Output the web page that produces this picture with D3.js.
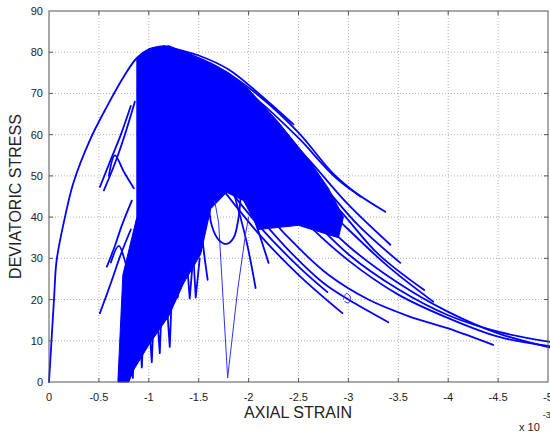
<!DOCTYPE html>
<html>
<head>
<meta charset="utf-8">
<script src="https://cdn.jsdelivr.net/npm/d3@7"></script>
<style>
  html, body { margin: 0; padding: 0; background: #fff; }
  svg { display: block; font-family: "Liberation Sans", Arial, sans-serif; }
  .grid line { stroke: #b0b0b0; stroke-width: 1; stroke-dasharray: 1 2; }
  .frame { fill: none; stroke: #555; stroke-width: 1; }
  .tick-mark { stroke: #555; stroke-width: 1; }
  .tick-label { font-size: 11px; fill: #222; }
  .axis-title { font-size: 16px; fill: #222; }
  .curve { fill: none; stroke: #0000ff; stroke-width: 1.8; stroke-linejoin: round; stroke-linecap: round; }
  .thin { fill: none; stroke: #3030ff; stroke-width: 1; }
  .core { fill: #0000ff; stroke: #0000ff; stroke-width: 1; }
</style>
</head>
<body>
<div id="chart"></div>
<script>
// axial strain (x 10^-3) / deviatoric stress
const xTicks = [0, -0.5, -1, -1.5, -2, -2.5, -3, -3.5, -4, -4.5, -5];
const yTicks = [0, 10, 20, 30, 40, 50, 60, 70, 80, 90];

// initial loading branch up to the peak
const loading = [[0, 0], [-0.02, 8], [-0.05, 20], [-0.077, 29.6], [-0.16, 40], [-0.244, 48.3], [-0.41, 58.7],
  [-0.58, 66.8], [-0.75, 74.1], [-0.88, 78.6], [-1.01, 80.8], [-1.15, 81.5]];

// dense overlapping region of the cycles, traced as an outline
const core = [[-0.88, 78.6], [-1.0, 80.8], [-1.2, 81.6], [-1.5, 78.5], [-1.8, 75], [-2.0, 71], [-2.3, 63], [-2.6, 54],
  [-2.8, 47], [-2.95, 40], [-2.9, 35], [-2.5, 38], [-2.1, 37], [-1.95, 44], [-1.78, 46], [-1.62, 42], [-1.52, 31],
  [-1.35, 24], [-1.2, 16], [-1.0, 9], [-0.85, 3], [-0.8, 0], [-0.69, 0], [-0.74, 26], [-0.88, 40], [-0.88, 55]];

// softening branches fanning out from the peak
const fan = [
  [[-1.15, 81.5], [-1.5, 79.2], [-1.8, 75.8], [-2.1, 70], [-2.45, 62.5]],
  [[-1.3, 80.5], [-1.7, 76.3], [-2.1, 69.5], [-2.5, 60.5], [-2.85, 50.5], [-3.12, 45]],
  [[-1.3, 79.5], [-1.7, 75.2], [-2.1, 68.2], [-2.5, 59.2], [-2.9, 49], [-3.37, 41.3]],
  [[-1.35, 78], [-1.8, 72], [-2.2, 64], [-2.6, 54], [-3.0, 43], [-3.42, 33.3]],
  [[-1.4, 76], [-1.9, 68], [-2.3, 59], [-2.7, 49], [-3.1, 38], [-3.52, 28.9]],
  [[-1.4, 74], [-1.9, 65], [-2.4, 54], [-2.9, 42], [-3.3, 31], [-3.76, 22.3]],
  [[-1.45, 72], [-2.0, 61], [-2.5, 49], [-3.0, 37], [-3.4, 28], [-3.85, 19.5]],
  [[-1.5, 70], [-2.0, 58], [-2.5, 45], [-3.0, 33], [-3.5, 24], [-4.0, 17], [-4.5, 11.8], [-5.05, 8.2]],
  [[-1.5, 68], [-2.0, 56], [-2.5, 43], [-3.0, 31], [-3.5, 22.5], [-4.0, 16.2], [-4.5, 12.2], [-5.05, 9.6]],
  [[-1.55, 66], [-2.0, 54], [-2.5, 40.5], [-3.0, 29.5], [-3.5, 21.2], [-4.0, 15.5], [-4.5, 11], [-5.05, 8.6]],
  [[-1.6, 58], [-2.0, 46], [-2.4, 35], [-2.8, 26], [-3.2, 20], [-3.6, 16], [-4.0, 13], [-4.45, 9]],
  [[-1.6, 55], [-2.0, 43], [-2.4, 32], [-2.75, 24], [-3.0, 20], [-3.4, 14.5]],
  [[-1.7, 50], [-2.1, 38], [-2.5, 28], [-2.79, 21.8]],
  [[-1.7, 48], [-2.1, 36], [-2.5, 26], [-2.94, 16.7]],
  [[-1.9, 50], [-2.05, 40], [-2.2, 28.9]],
  [[-1.85, 46], [-1.98, 34], [-2.07, 22.8]],
  [[-1.5, 45], [-1.55, 32], [-1.59, 24.8]]
];

// early unloading branches left of the core
const branches = [
  [[-0.51, 47.3], [-0.62, 54], [-0.72, 60], [-0.82, 67]],
  [[-0.55, 46.5], [-0.66, 53], [-0.76, 60], [-0.86, 68]],
  [[-0.6, 50], [-0.66, 55], [-0.75, 51], [-0.85, 47]],
  [[-0.58, 28], [-0.66, 33], [-0.73, 38], [-0.83, 44]],
  [[-0.51, 16.7], [-0.62, 24], [-0.72, 31], [-0.82, 37]],
  [[-0.62, 29], [-0.7, 33], [-0.78, 28], [-0.86, 24]]
];

// reloading spikes below the core
const spikes = [
  [[-0.76, 20], [-0.77, 0.5], [-0.8, 15]],
  [[-0.8, 22], [-0.84, 1], [-0.87, 18]],
  [[-0.88, 25], [-0.93, 3.5], [-0.96, 20]],
  [[-0.97, 26], [-1.03, 4.8], [-1.06, 22]],
  [[-1.05, 28], [-1.11, 7], [-1.14, 25]],
  [[-1.15, 30], [-1.21, 8.5], [-1.24, 27]],
  [[-1.25, 35], [-1.29, 20.5], [-1.32, 33]],
  [[-1.36, 36], [-1.41, 20.3], [-1.45, 32]],
  [[-1.43, 38], [-1.47, 20.5], [-1.51, 30]]
];

// single deep unloading loop
const vee = [[-1.66, 44], [-1.70, 38.6], [-1.79, 1], [-1.89, 22.3], [-1.97, 36], [-2.0, 40]];
const arch = [[-1.6, 44], [-1.63, 38], [-1.7, 34.5], [-1.78, 33.5], [-1.85, 35], [-1.9, 40], [-1.92, 45]];
const blip = [[-2.95, 20], [-2.98, 21.5], [-3.02, 20.6], [-3.0, 19.2], [-2.96, 19.6]];

const width = 550;
const height = 434;
const margin = { left: 49, right: 2, top: 11, bottom: 52 };

const x = d3.scaleLinear().domain([0, -5]).range([margin.left, width - margin.right]);
const y = d3.scaleLinear().domain([0, 90]).range([height - margin.bottom, margin.top]);

const svg = d3.select("#chart").append("svg").attr("width", width).attr("height", height);

const grid = svg.append("g").attr("class", "grid");
grid.selectAll("line.v").data(xTicks.slice(1, -1)).join("line").attr("class", "v")
  .attr("x1", (d) => x(d)).attr("x2", (d) => x(d)).attr("y1", y(0)).attr("y2", y(90));
grid.selectAll("line.h").data(yTicks.slice(1, -1)).join("line").attr("class", "h")
  .attr("x1", x(0)).attr("x2", x(-5)).attr("y1", (d) => y(d)).attr("y2", (d) => y(d));

const line = d3.line().x((d) => x(d[0])).y((d) => y(d[1])).curve(d3.curveCatmullRom.alpha(0.5));
const straight = d3.line().x((d) => x(d[0])).y((d) => y(d[1]));
const plot = svg.append("g");

plot.append("path").attr("class", "core").attr("d", straight.curve(d3.curveLinearClosed)(core));
straight.curve(d3.curveLinear);
plot.selectAll("path.fan").data(fan).join("path").attr("class", "curve fan").attr("d", line);
plot.selectAll("path.branch").data(branches).join("path").attr("class", "curve branch").attr("d", line);
plot.selectAll("path.spike").data(spikes).join("path").attr("class", "curve spike").attr("d", straight);
plot.append("path").attr("class", "thin").attr("d", straight(vee));
plot.append("path").attr("class", "curve").attr("d", line(arch));
plot.append("path").attr("class", "thin").attr("d", line(blip));
plot.append("path").attr("class", "curve").attr("d", line(loading));

// frame and ticks on all four sides
svg.append("rect").attr("class", "frame")
  .attr("x", x(0)).attr("y", y(90)).attr("width", x(-5) - x(0)).attr("height", y(0) - y(90));
const tl = 4;
svg.selectAll("line.xt").data(xTicks.slice(1, -1)).join("line").attr("class", "tick-mark xt")
  .attr("x1", (d) => x(d)).attr("x2", (d) => x(d)).attr("y1", y(0)).attr("y2", y(0) - tl);
svg.selectAll("line.xt2").data(xTicks.slice(1, -1)).join("line").attr("class", "tick-mark xt2")
  .attr("x1", (d) => x(d)).attr("x2", (d) => x(d)).attr("y1", y(90)).attr("y2", y(90) + tl);
svg.selectAll("line.yt").data(yTicks.slice(1, -1)).join("line").attr("class", "tick-mark yt")
  .attr("x1", x(0)).attr("x2", x(0) + tl).attr("y1", (d) => y(d)).attr("y2", (d) => y(d));
svg.selectAll("line.yt2").data(yTicks.slice(1, -1)).join("line").attr("class", "tick-mark yt2")
  .attr("x1", x(-5)).attr("x2", x(-5) - tl).attr("y1", (d) => y(d)).attr("y2", (d) => y(d));

svg.selectAll("text.xl").data(xTicks).join("text").attr("class", "tick-label xl")
  .attr("x", (d) => x(d)).attr("y", y(0) + 19).attr("text-anchor", "middle").text((d) => d);
svg.selectAll("text.yl").data(yTicks).join("text").attr("class", "tick-label yl")
  .attr("x", x(0) - 6).attr("y", (d) => y(d) + 4).attr("text-anchor", "end").text((d) => d);

svg.append("text").attr("class", "axis-title").attr("x", 298).attr("y", 418)
  .attr("text-anchor", "middle").text("AXIAL STRAIN");
svg.append("text").attr("class", "axis-title").attr("transform", `translate(21,${(y(0) + y(90)) / 2}) rotate(-90)`)
  .attr("text-anchor", "middle").text("DEVIATORIC STRESS");

const exp = svg.append("text").attr("class", "tick-label").attr("x", 519).attr("y", 431);
exp.append("tspan").text("x 10");
exp.append("tspan").attr("dx", 3).attr("dy", -13).attr("font-size", 9).text("-3");
</script>
</body>
</html>
